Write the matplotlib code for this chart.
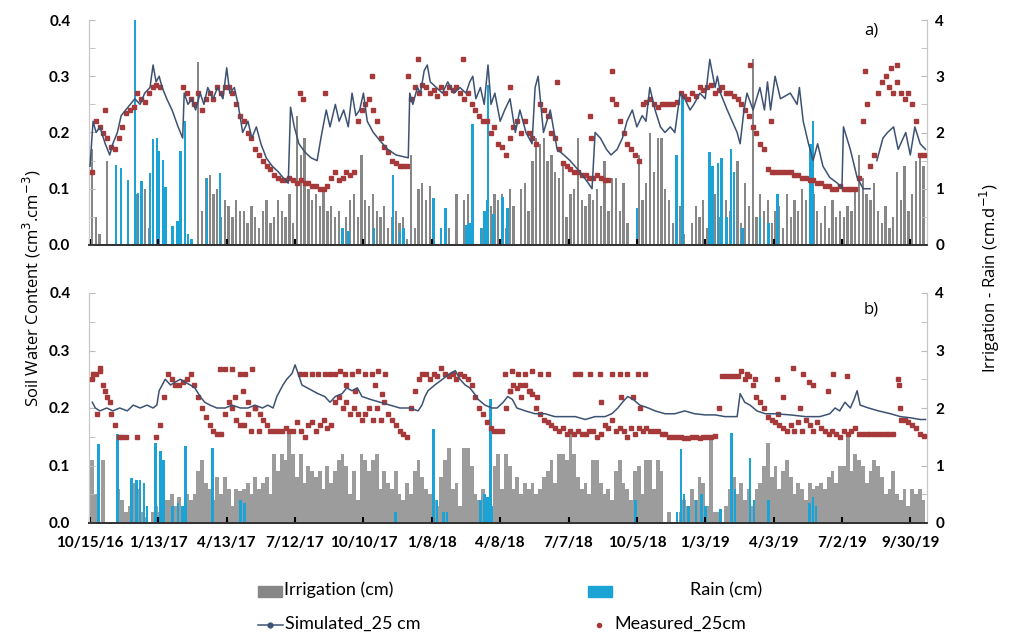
import numpy as np
import pandas as pd
import matplotlib
matplotlib.use("Agg")
import matplotlib.pyplot as plt
from matplotlib.patches import Rectangle
from matplotlib.lines import Line2D
from matplotlib.ticker import MultipleLocator

plt.rcParams['font.family'] = ['Lato', 'DejaVu Sans']

# --- data (x values are day offsets from START) ---
START = pd.Timestamp("2016-10-13")
X_END = pd.Timestamp("2019-10-22")
nan = np.nan

tick_dates = pd.date_range("2016-10-15", periods=13, freq="90D")
tick_labels = ["10/15/16", "1/13/17", "4/13/17", "7/12/17", "10/10/17", "1/8/18", "4/8/18",
               "7/7/18", "10/5/18", "1/3/19", "4/3/19", "7/2/19", "9/30/19"]

# 5-day bins for irrigation and measured water content
bin_dates = pd.date_range("2016-10-15", periods=220, freq="5D") + pd.Timedelta(hours=60)

irr_a = [1.7, 0.5, 0.2, 0.0, 1.5, 0.0, 0.0, 0.0, 0.0, 0.0, 0.0, 0.0, 0.9, 0.85, 1.0, 0.3, 0.0, 0.0, 0.0, 0.0,
         0.0, 0.0, 0.0, 0.0, 0.0, 0.0, 0.0, 0.0, 3.25, 0.6, 1.2, 1.25, 0.9, 1.0, 0.5, 0.8, 0.7, 0.5, 0.8, 0.6,
         0.6, 0.4, 0.7, 0.5, 0.3, 0.6, 0.8, 0.4, 0.5, 0.8, 0.6, 0.5, 0.9, 0.4, 2.3, 1.6, 1.9, 1.0, 0.8,
         0.9, 0.7, 1.0, 0.6, 0.7, 0.5, 0.6, 0.3, 0.5, 0.8, 0.9, 0.5, 1.6, 0.8, 0.7, 0.9, 0.6, 0.5, 0.7, 0.3,
         0.5, 0.6, 0.4, 0.5, 0.1, 1.6, 0.3, 1.0, 1.1, 0.8, 1.05, 0.3, 0.0, 0.2, 0.0, 0.3, 0.0, 0.9, 0.0, 0.8,
         0.9, 0.0, 0.0, 0.0, 0.3, 0.5, 0.7, 0.9, 0.8, 0.9, 0.3, 1.0, 0.7, 0.0, 1.0, 1.1, 0.6, 1.5, 1.9, 1.8,
         1.9, 1.5, 1.6, 1.3, 1.2, 1.4, 0.5, 0.9, 1.0, 1.9, 0.8, 0.7, 0.9, 0.8, 1.0, 0.7, 1.5, 0.6, 1.2,
         1.2, 0.6, 1.1, 0.4, 0.0, 0.0, 1.6, 0.8, 1.1, 2.0, 1.3, 1.9, 1.9, 1.0, 0.8, 0.4, 0.3, 0.7, 0.2, 0.0,
         0.4, 0.7, 0.5, 0.8, 0.3, 0.6, 0.9, 0.5, 1.2, 0.8, 0.6, 1.0, 1.5, 0.4, 1.1, 0.7, 3.3, 0.5, 0.9, 0.6,
         0.8, 0.4, 0.6, 0.7, 0.3, 0.9, 0.5, 0.8, 0.6, 1.0, 0.8, 0.5, 0.9, 0.6, 0.4, 0.7, 0.3, 0.8, 0.5, 0.6,
         0.5, 0.7, 0.6, 1.0, 1.6, 1.2, 0.9, 0.8, 1.1, 0.6, 0.4, 0.7, 0.3, 0.5, 1.3, 0.8, 1.4, 0.6, 0.9,
         1.5, 1.6, 1.4]

irr_b = [1.1, 0.5, 0.0, 1.1, 0.0, 0.0, 0.0, 0.6, 0.4, 0.2, 0.3, 0.7, 0.6, 0.2, 0.1, 0.0, 0.2, 0.3, 0.2, 0.4,
         0.4, 0.5, 0.3, 0.45, 0.3, 0.5, 0.4, 0.5, 0.9, 1.1, 0.7, 0.6, 0.4, 0.8, 0.5, 0.8, 0.6, 0.3, 0.6, 0.55,
         0.6, 0.7, 0.5, 0.8, 0.6, 0.7, 0.8, 0.5, 1.2, 0.9, 1.2, 1.1, 1.57, 1.2, 0.8, 1.2, 0.7, 1.0, 0.9,
         0.8, 0.9, 0.6, 1.0, 0.7, 0.9, 1.1, 1.2, 1.0, 0.5, 0.9, 0.4, 1.2, 1.1, 0.9, 1.1, 1.2, 0.6, 0.9, 0.7,
         0.6, 0.9, 0.5, 0.4, 0.7, 0.5, 0.9, 1.1, 0.8, 0.6, 0.5, 0.4, 0.3, 0.8, 1.1, 1.3, 0.6, 0.7, 0.3, 1.3,
         1.3, 1.0, 0.5, 0.4, 0.6, 0.3, 0.2, 1.0, 1.2, 0.6, 1.2, 1.0, 0.6, 0.8, 0.5, 0.7, 0.6, 0.7, 0.5, 0.6,
         0.8, 0.9, 1.1, 0.7, 1.2, 1.2, 1.1, 1.57, 1.2, 0.8, 0.6, 0.7, 0.5, 1.1, 1.1, 0.7, 0.5, 0.6, 0.4,
         0.9, 1.1, 0.7, 0.6, 0.4, 0.9, 1.0, 0.5, 1.1, 1.1, 0.6, 1.1, 0.9, 0.0, 0.2, 0.0, 0.0, 0.2, 0.4, 0.3,
         0.6, 0.4, 0.8, 0.7, 0.3, 1.5, 0.2, 0.2, 0.0, 0.3, 0.6, 0.8, 0.5, 0.7, 0.4, 0.6, 0.3, 0.6, 0.7, 1.0,
         1.4, 0.8, 1.0, 0.6, 0.9, 1.1, 0.8, 0.5, 0.7, 0.6, 0.4, 0.7, 0.6, 0.65, 0.7, 0.6, 0.8, 0.9, 0.7, 1.0,
         1.0, 1.54, 0.9, 1.2, 1.1, 1.0, 0.7, 0.9, 1.1, 1.0, 0.8, 0.5, 0.6, 0.9, 0.5, 0.4, 0.6, 0.3, 0.6,
         0.5, 0.6, 0.4]

meas_a = [0.13, 0.22, 0.21, 0.2, 0.19, 0.175, 0.17, 0.19, 0.21, 0.235, 0.24, 0.245, 0.27, 0.26, 0.255, 0.27, 0.28, 0.285, 0.28, nan,
          nan, nan, nan, nan, 0.28, 0.27, 0.26, 0.25, 0.27, 0.24, 0.26, 0.27, 0.26, 0.28, 0.27, 0.28, 0.28, 0.27, 0.25, 0.23,
          0.22, 0.2, 0.19, 0.17, 0.16, 0.15, 0.14, 0.135, 0.125, 0.12, 0.115, 0.115, 0.12, 0.115, 0.11, 0.115, 0.11, 0.11, 0.105,
          0.105, 0.1, 0.1, 0.105, 0.12, 0.13, 0.115, 0.12, 0.13, 0.125, 0.13, 0.22, 0.24, 0.25, 0.26, 0.24, 0.22, 0.19, 0.175, 0.165,
          0.15, 0.145, 0.14, 0.14, 0.14, 0.26, 0.28, 0.27, 0.285, 0.28, 0.27, 0.275, 0.265, 0.28, 0.27, 0.28, 0.275, 0.28, 0.27, 0.26,
          0.27, 0.25, 0.24, 0.23, 0.22, 0.22, 0.2, 0.21, 0.18, 0.175, 0.16, 0.19, 0.21, 0.22, 0.2, 0.22, 0.2, 0.19, 0.18, 0.25,
          0.24, 0.23, 0.2, 0.19, 0.17, 0.145, 0.14, 0.135, 0.13, 0.13, 0.125, 0.125, 0.12, 0.12, 0.125, 0.12, 0.115, 0.115, 0.26,
          0.25, 0.22, 0.2, 0.18, 0.17, 0.16, 0.15, 0.25, 0.255, 0.26, 0.25, 0.245, 0.25, 0.25, 0.25, 0.25, 0.255, 0.27, 0.265, 0.26,
          0.27, 0.265, 0.28, 0.275, 0.28, 0.285, 0.27, 0.275, 0.28, 0.27, 0.27, 0.265, 0.26, 0.25, 0.24, 0.23, 0.21, 0.2, 0.18, 0.17,
          0.135, 0.13, 0.13, 0.13, 0.13, 0.13, 0.13, 0.125, 0.125, 0.12, 0.12, 0.115, 0.115, 0.11, 0.11, 0.105, 0.105, 0.1, 0.1, 0.105,
          0.1, 0.1, 0.1, 0.1, 0.12, 0.22, 0.25, 0.14, 0.16, 0.27, 0.29, 0.3, 0.28, 0.27, 0.29, 0.27, 0.26, 0.27, 0.25,
          0.22, 0.16, 0.16]

meas_b = [0.25, 0.26, 0.265, 0.24, 0.22, 0.19, 0.17, 0.15, 0.15, 0.15, nan, nan, 0.15, nan, nan, nan, nan, 0.15, 0.17, 0.22,
          0.26, 0.25, 0.24, 0.24, 0.245, 0.25, 0.26, 0.24, 0.22, 0.2, 0.185, 0.17, 0.16, 0.155, 0.155, 0.19, 0.21, 0.2, 0.18, 0.17,
          0.17, 0.19, 0.16, 0.2, 0.16, 0.18, 0.17, 0.16, 0.16, 0.16, 0.16, 0.165, 0.16, 0.16, 0.175, 0.16, 0.15, 0.17, 0.175,
          0.16, 0.17, 0.18, 0.165, 0.17, 0.21, 0.22, 0.2, 0.21, 0.19, 0.2, 0.19, 0.18, 0.19, 0.2, 0.18, 0.2, 0.18, 0.21, 0.19,
          0.18, 0.17, 0.16, 0.155, 0.15, 0.2, 0.23, 0.25, 0.26, 0.26, 0.25, 0.26, 0.255, 0.27, 0.26, 0.255, 0.26, 0.25, 0.26, 0.255,
          0.25, 0.24, 0.22, 0.2, 0.19, 0.175, 0.165, 0.16, 0.16, 0.16, 0.2, 0.23, 0.24, 0.235, 0.22, 0.24, 0.23, 0.225, 0.2, 0.19,
          0.18, 0.175, 0.17, 0.165, 0.16, 0.165, 0.155, 0.16, 0.155, 0.16, 0.155, 0.155, 0.16, 0.16, 0.15, 0.155, 0.17, 0.165, 0.18,
          0.16, 0.165, 0.16, 0.15, 0.165, 0.155, 0.165, 0.16, 0.165, 0.16, 0.16, 0.16, 0.155, 0.155, 0.15, 0.15, 0.15, 0.15, 0.148, 0.148,
          0.15, 0.15, 0.148, 0.15, 0.15, 0.15, 0.152, 0.2, 0.255, 0.255, 0.255, 0.255, 0.255, 0.265, 0.25, 0.255, 0.24, 0.22, 0.21, 0.2,
          0.185, 0.18, 0.175, 0.17, 0.165, 0.16, 0.17, 0.16, 0.175, 0.16, 0.18, 0.17, 0.16, 0.175, 0.165, 0.16, 0.155, 0.16, 0.155, 0.15,
          0.16, 0.155, 0.16, 0.165, 0.155, 0.155, 0.155, 0.155, 0.155, 0.155, 0.155, 0.155, 0.155, 0.155, nan, 0.18, 0.18, 0.175, 0.17,
          0.165, 0.155, 0.152]

# extra measured points off the main track
meas_a_extra_days = [22, 279, 283, 312, 373, 421, 434, 493, 555, 617, 660, 661, 689, 871, 898, 1023, 1056, 1065]
meas_a_extra_vals = [0.24, 0.27, 0.26, 0.27, 0.3, 0.3, 0.33, 0.33, 0.28, 0.29, 0.23, 0.19, 0.31, 0.32, 0.22, 0.31, 0.315, 0.32]

meas_b_extra_days = [6, 15, 22, 28, 11,
                     173, 180, 189, 200, 206, 215, 193, 203, 210, 219, 226,
                     279, 285, 294, 302, 312, 318,
                     325, 331, 338, 347, 355, 364, 373, 381, 390, 339, 351, 377, 386,
                     549, 558, 566, 575, 584, 594, 605, 555, 568, 581, 591,
                     641, 647, 660, 674, 689, 700, 709, 724, 733, 675, 701, 717, 726,
                     867, 878, 907, 915, 928, 941, 948, 954, 980, 999, 937, 908, 973, 1066, 1067, 1069]
meas_b_extra_vals = [0.26, 0.27, 0.23, 0.21, 0.19,
                     0.267, 0.267, 0.267, 0.26, 0.26, 0.267, 0.22, 0.23, 0.21, 0.2, 0.19,
                     0.26, 0.26, 0.26, 0.26, 0.26, 0.26,
                     0.26, 0.265, 0.26, 0.26, 0.265, 0.26, 0.26, 0.265, 0.26, 0.24, 0.23, 0.24, 0.225,
                     0.26, 0.265, 0.26, 0.26, 0.265, 0.26, 0.26, 0.23, 0.24, 0.23, 0.22,
                     0.26, 0.26, 0.26, 0.26, 0.26, 0.26, 0.26, 0.26, 0.26, 0.21, 0.22, 0.22, 0.2,
                     0.26, 0.25, 0.25, 0.22, 0.27, 0.26, 0.245, 0.24, 0.26, 0.255, 0.2, 0.19, 0.23, 0.25, 0.24, 0.2]

sim_a_days = [2, 6, 10, 15, 22, 28, 32, 38, 43, 49, 55, 61, 68, 74, 81, 85, 89, 93, 97, 103,
              110, 118, 124, 126, 131, 136, 141, 147, 152, 157, 164, 170, 177, 182, 186, 192, 197, 203, 210, 215,
              221, 227, 234, 242, 250, 256, 263, 266, 271, 277, 285, 293, 301, 306, 313, 318, 325, 330, 336, 342,
              347, 352, 357, 362, 367, 375, 384, 394, 405, 415, 421, 423, 427, 433, 437, 442, 446, 450, 458, 466,
              473, 481, 489, 497, 502, 506, 510, 516, 521, 526, 530, 535, 542, 548, 555, 562, 568, 576, 584, 588,
              592, 599, 608, 617, 626, 634, 647, 658, 663, 667, 674, 682, 688, 696, 703, 709, 716, 722, 729, 734,
              739, 746, 753, 759, 766, 772, 779, 785, 792, 797, 805, 812, 818, 825, 828, 832, 841, 854, 858, 863,
              867, 875, 884, 890, 894, 898, 904, 911, 924, 933, 936, 941, 948, 954, 960, 967, 976, 986, 992, 994,
              1003, 1012, 1020, 1029, 1033, 1038, 1046, 1052, 1060, 1066, 1076, 1082, 1088, 1095, 1102]
sim_a_vals = [0.14, 0.22, 0.2, 0.21, 0.18, 0.16, 0.18, 0.2, 0.23, 0.24, 0.25, 0.26, 0.25, 0.27, 0.28, 0.32, 0.29, 0.3, 0.28, 0.26,
              0.24, 0.21, 0.19, 0.27, 0.25, 0.26, 0.24, 0.27, 0.25, 0.28, 0.26, 0.28, 0.26, 0.315, 0.27, 0.28, 0.25, 0.2, 0.22, 0.19,
              0.21, 0.18, 0.155, 0.14, 0.13, 0.12, 0.11, 0.245, 0.21, 0.18, 0.165, 0.155, 0.15, 0.19, 0.24, 0.21, 0.25, 0.22, 0.24, 0.21,
              0.27, 0.23, 0.24, 0.27, 0.22, 0.2, 0.185, 0.17, 0.16, 0.157, 0.155, 0.27, 0.25, 0.28, 0.27, 0.31, 0.32, 0.29, 0.28, 0.27,
              0.29, 0.27, 0.28, 0.27, 0.29, 0.3, 0.26, 0.28, 0.25, 0.32, 0.25, 0.27, 0.22, 0.24, 0.26, 0.2, 0.24, 0.2, 0.18, 0.28,
              0.3, 0.2, 0.24, 0.17, 0.16, 0.15, 0.13, 0.11, 0.1, 0.2, 0.19, 0.17, 0.16, 0.17, 0.19, 0.22, 0.24, 0.21, 0.23, 0.22,
              0.28, 0.24, 0.21, 0.2, 0.21, 0.2, 0.27, 0.26, 0.24, 0.25, 0.27, 0.26, 0.33, 0.28, 0.3, 0.27, 0.24, 0.2, 0.18, 0.24,
              0.27, 0.24, 0.28, 0.24, 0.29, 0.24, 0.3, 0.26, 0.27, 0.25, 0.28, 0.22, 0.18, 0.15, 0.18, 0.14, 0.12, 0.11, 0.1, 0.21,
              0.17, 0.12, 0.1, 0.1, nan, 0.15, 0.19, 0.2, 0.21, 0.17, 0.2, 0.16, 0.21, 0.18, 0.17]

sim_b_days = [5, 9, 15, 24, 32, 41, 51, 59, 68, 77, 85, 90, 93, 97, 101, 108, 114, 121, 127, 134,
              140, 147, 153, 160, 169, 180, 189, 200, 210, 219, 229, 236, 243, 248, 256, 261, 268, 272, 276, 281,
              288, 295, 302, 311, 318, 325, 334, 340, 347, 354, 360, 371, 384, 397, 410, 423, 434, 439, 443, 447,
              456, 466, 476, 483, 489, 496, 502, 508, 513, 522, 531, 538, 546, 552, 558, 564, 575, 588, 601, 614,
              627, 641, 654, 667, 680, 689, 697, 703, 710, 717, 726, 737, 746, 759, 772, 785, 798, 812, 825, 838,
              854, 858, 864, 871, 880, 891, 904, 924, 944, 963, 976, 983, 989, 996, 1003, 1008, 1012, 1016, 1027, 1040,
              1056, 1069, 1082, 1095, 1102]
sim_b_vals = [0.21, 0.2, 0.195, 0.2, 0.195, 0.2, 0.195, 0.205, 0.2, 0.205, 0.2, 0.205, 0.23, 0.24, 0.25, 0.24, 0.245, 0.25, 0.245, 0.24,
              0.235, 0.22, 0.21, 0.205, 0.2, 0.2, 0.205, 0.2, 0.2, 0.205, 0.2, 0.205, 0.2, 0.22, 0.24, 0.25, 0.26, 0.275, 0.26, 0.24,
              0.235, 0.23, 0.225, 0.22, 0.21, 0.22, 0.225, 0.235, 0.23, 0.235, 0.22, 0.215, 0.21, 0.205, 0.2, 0.2, 0.195, 0.205, 0.22, 0.23,
              0.24, 0.25, 0.26, 0.265, 0.25, 0.24, 0.235, 0.225, 0.215, 0.205, 0.2, 0.2, 0.21, 0.22, 0.215, 0.2, 0.195, 0.19, 0.19, 0.185,
              0.185, 0.185, 0.18, 0.185, 0.185, 0.19, 0.2, 0.21, 0.22, 0.215, 0.205, 0.2, 0.195, 0.19, 0.19, 0.195, 0.19, 0.188, 0.188, 0.185,
              0.185, 0.225, 0.21, 0.205, 0.195, 0.19, 0.19, 0.188, 0.185, 0.185, 0.19, 0.2, 0.195, 0.21, 0.2, 0.215, 0.23, 0.205, 0.2, 0.195,
              0.19, 0.185, 0.183, 0.18, 0.18]

rain_a_days = [36, 43, 52, 61, 65, 70, 81, 85, 90, 93, 98, 101,
               111, 117, 121, 127, 131, 136, 156, 173,
               334, 342, 376,
               401, 410, 415, 454, 464, 470,
               498, 502, 506, 517, 521, 525, 526, 533, 545, 552,
               722, 774, 782,
               818, 822, 829, 833, 840, 846, 850, 861, 884,
               895, 907, 951, 954]
rain_a_vals = [1.43, 1.37, 1.16, 4.0, 0.93, 1.13, 1.28, 1.88, 1.9, 1.67, 1.52, 1.04,
               0.33, 0.42, 1.67, 2.2, 0.2, 0.1, 1.2, 1.28,
               0.3, 0.25, 0.3,
               1.24, 0.25, 0.3, 0.84, 0.3, 0.66,
               0.35, 0.4, 2.15, 0.3, 0.6, 0.8, 2.84, 0.55, 0.85, 0.65,
               0.65, 1.6, 2.7,
               1.65, 1.4, 1.45, 1.55, 0.5, 1.7, 1.3, 0.3, 0.5,
               0.4, 0.9, 1.8, 2.2]

rain_b_days = [13, 38, 57, 63, 68, 73, 77, 88, 95, 99,
               111, 118, 124, 128, 163, 200, 205,
               404, 454, 459, 467, 472,
               516, 521, 525, 529, 531,
               720, 775, 780, 784, 790,
               800, 807, 812, 832, 847, 851, 871, 876,
               895, 949, 954, 958]
rain_b_vals = [1.37, 1.54, 0.78, 0.75, 0.75, 0.7, 0.3, 1.4, 1.25, 1.1,
               0.3, 0.35, 0.3, 1.34, 1.3, 0.4, 0.35,
               0.2, 1.63, 0.4, 0.2, 0.2,
               0.4, 0.5, 0.45, 2.15, 0.3,
               0.4, 0.2, 1.28, 0.5, 0.3,
               0.4, 0.5, 0.3, 0.25, 1.57, 0.6, 1.13, 0.4,
               0.4, 0.35, 0.45, 0.3]

# --- styling ---
GRAY_A = '#878787'
GRAY_B = '#9c9c9c'
BLUE = '#1ba3d6'
RED = '#a63a3a'
SIM = '#3d5272'
W, H = 1009, 634


def to_dates(days):
    return START + pd.to_timedelta(np.asarray(days, dtype=float), unit="D")


fig = plt.figure(figsize=(W / 100, H / 100), dpi=100)


def panel(rect, irr, irr_color, irr_width, rain_days, rain_vals, sim_days, sim_vals,
          meas, extra_days, extra_vals, tag, show_dates):
    ax = fig.add_axes(rect)
    axr = ax.twinx()
    axr.bar(bin_dates, irr, width=irr_width, color=irr_color, zorder=1)
    axr.bar(to_dates(rain_days), rain_vals, width=3.5, color=BLUE, zorder=2)
    ax.plot(bin_dates, meas, linestyle='none', marker='s', markersize=2.7, color=RED, zorder=3)
    ax.plot(to_dates(extra_days), extra_vals, linestyle='none', marker='s', markersize=2.7, color=RED, zorder=3)
    ax.plot(to_dates(sim_days), sim_vals, color=SIM, lw=1.1, zorder=4)
    ax.set_zorder(axr.get_zorder() + 1)
    ax.patch.set_visible(False)

    ax.set_xlim(START, X_END)
    ax.set_ylim(0, 0.4)
    axr.set_ylim(0, 4)

    for a in (ax, axr):
        a.spines['top'].set_visible(False)
        a.spines['left'].set_color('#c8c8c8')
        a.spines['right'].set_color('#c8c8c8')
        a.spines['bottom'].set_color('#333333')
        a.spines['bottom'].set_linewidth(1.3)

    ax.yaxis.set_major_locator(MultipleLocator(0.1))
    ax.yaxis.set_minor_locator(MultipleLocator(0.05))
    ax.set_yticklabels([f"{v:.1f}" for v in ax.get_yticks()])
    ax.tick_params(axis='y', which='both', direction='in', color='#bbbbbb', length=4, pad=13,
                   labelsize=11)
    for t in ax.get_yticklabels():
        t.set_fontweight('bold')

    axr.yaxis.set_major_locator(MultipleLocator(1))
    axr.yaxis.set_minor_locator(MultipleLocator(0.5))
    axr.tick_params(axis='y', which='both', direction='in', color='#bbbbbb', length=4, pad=6,
                    labelsize=11)
    for t in axr.get_yticklabels():
        t.set_fontweight('bold')

    ax.set_xticks(tick_dates)
    ax.tick_params(axis='x', direction='in', length=4, width=1.5, color='black', pad=9)
    if show_dates:
        ax.set_xticklabels(tick_labels, fontsize=11, fontweight='bold')
    else:
        ax.set_xticklabels([])
    ax.text(0.933, 0.955 if tag == 'a)' else 0.93, tag, transform=ax.transAxes, ha='center',
            va='center', fontsize=12, family='Open Sans')
    return ax


panel([88.5 / W, 1 - 245 / H, 838.5 / W, 225 / H], irr_a, GRAY_A, 3.0, rain_a_days, rain_a_vals,
      sim_a_days, sim_a_vals, meas_a, meas_a_extra_days, meas_a_extra_vals, 'a)', False)
panel([88.5 / W, 1 - 523 / H, 838.5 / W, 230 / H], irr_b, GRAY_B, 5.0, rain_b_days, rain_b_vals,
      sim_b_days, sim_b_vals, meas_b, meas_b_extra_days, meas_b_extra_vals, 'b)', True)

fig.text(32 / W, 1 - 288 / H, "Soil Water Content (cm$^{3}$.cm$^{-3}$)", rotation=90,
         ha='center', va='center', fontsize=12, family='Open Sans')
fig.text(990 / W, 1 - 278 / H, "Irrigation - Rain (cm.d$^{-1}$)", rotation=90,
         ha='center', va='center', fontsize=12, family='Open Sans')


# --- legend, drawn by hand in figure pixels ---
def fx(px):
    return px / W


def fy(py):
    return 1 - py / H


fig.add_artist(Rectangle((fx(258), fy(597)), 24 / W, 11 / H, transform=fig.transFigure, color=GRAY_A))
fig.text(fx(284), fy(590), "Irrigation (cm)", ha='left', va='center', fontsize=13)
fig.add_artist(Rectangle((fx(588), fy(597)), 24 / W, 11 / H, transform=fig.transFigure, color=BLUE))
fig.text(fx(690), fy(590), "Rain (cm)", ha='left', va='center', fontsize=13)
fig.add_artist(Line2D([fx(258), fx(283)], [fy(625), fy(625)], transform=fig.transFigure,
                      color=SIM, lw=1.1))
fig.add_artist(Line2D([fx(270)], [fy(625)], transform=fig.transFigure,
                      color=SIM, marker='o', markersize=3.5, linestyle='none'))
fig.text(fx(285), fy(624), "Simulated_25 cm", ha='left', va='center', fontsize=13)
fig.add_artist(Line2D([fx(599)], [fy(625)], transform=fig.transFigure,
                      color=RED, marker='o', markersize=3, linestyle='none'))
fig.text(fx(614), fy(624), "Measured_25cm", ha='left', va='center', fontsize=13)

fig.savefig("out.png", dpi=100)
